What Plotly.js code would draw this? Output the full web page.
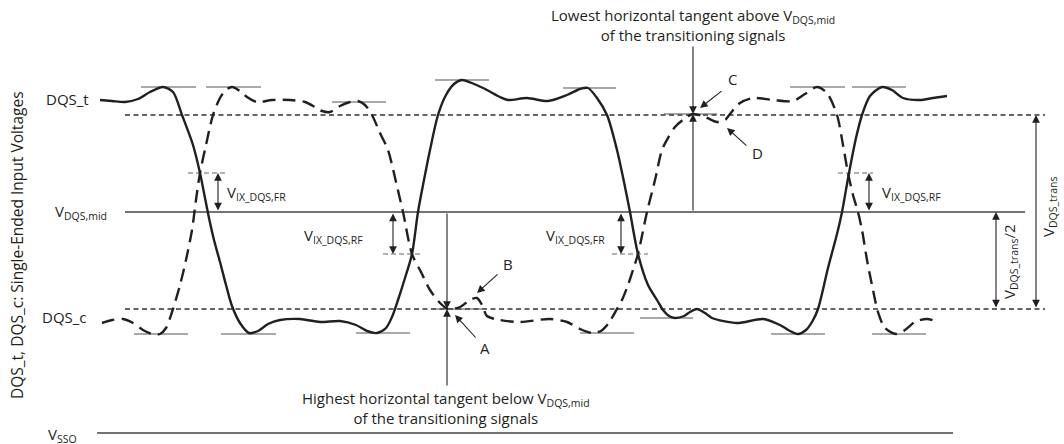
<!DOCTYPE html>
<html><head><meta charset="utf-8">
<script src="https://cdn.plot.ly/plotly-3.0.1.min.js"></script>
<style>html,body{margin:0;padding:0;background:#fff}#chart{width:1064px;height:444px}</style>
</head><body><div id="chart"></div>
<script>
// ---- DATA (time units on x, signal level units on y; level axis runs downward) ----
const dqsT_x = [100,112,125,138,150,163,173,182,193,200,205,209,214,220,226,232,240,249,258,268,280,300,320,340,356,367,377,386,392,398,405,412,418,424,430,438,446,454,462,474,487,500,508,527,548,567,580,588,597,607,617,624,630,638,648,657,663,669,675,684,690,697,705,712,737,763,780,790,798,806,812,818,828,838,842,849,856,862,870,882,892,903,920,933,947];
const dqsT_y = [100,101,102,99,92,87,92,115,145,173,198,218,240,262,285,306,323,333,331,324,320,319,322,321,325,331,333,328,317,300,278,254,212,180,150,115,95,84,80,84,90,97,100,98,101,95,89,88,98,115,150,182,212,254,285,300,310,316,318,316,312,309,313,318,323,319,325,331,334,330,322,309,268,230,212,173,138,115,96,87,90,98,100,98,96];
const dqsC_x = [102,112,123,133,143,152,160,166,173,180,186,192,196,200,206,213,220,226,232,240,247,257,272,290,305,315,322,330,340,350,358,365,372,380,388,396,403,412,421,430,440,448,460,470,477,482,487,500,520,550,567,580,592,601,608,617,622,628,633,638,647,655,662,668,675,684,693,705,717,725,730,740,753,773,793,805,817,827,837,843,848,853,858,862,867,873,878,885,896,905,915,927,938];
const dqsC_y = [323,320,319,323,330,334,334,328,309,285,260,230,200,173,145,115,98,90,87,91,97,102,100,100,102,107,111,112,106,102,101,105,115,133,150,182,212,254,272,290,303,309,307,300,298,305,316,320,322,319,322,329,333,331,324,309,300,285,270,254,212,180,150,138,127,119,114,117,122,120,114,103,98,100,101,94,87,93,115,145,173,195,212,230,260,290,312,328,334,330,322,319,322];

// reference levels
const levelTransHigh = 115;   // upper dashed reference
const levelMid = 212;         // V_DQS,mid
const levelTransLow = 309;    // lower dashed reference
const levelSSO = 433;         // V_SSO
const refStart = 125, refEnd = 1045, midEnd = 1025, ssoStart = 97, ssoEnd = 953;

// horizontal tangents at local peaks / troughs
const tanY  = [87,87,87,87,80,88,102,114,309,318,334,334,333,333,334,334];
const tanX0 = [141,206,790,852,435,563,332,664,433,640,134,221,356,580,771,872];
const tanX1 = [196,261,845,906,489,616,386,717,482,693,188,276,410,634,825,926];

// V_IX crossing level markers
const vixY  = [173,173,254,254];
const vixX0 = [188,838,383,612];
const vixX1 = [225,873,423,648];

// ---- BUILD ----
const FONT = 'Open Sans, Noto Sans, sans-serif';
const INK = '#231f20';

function segs(ys, x0s, x1s){
  const x=[], y=[];
  ys.forEach((v,i)=>{ x.push(x0s[i], x1s[i], null); y.push(v, v, null); });
  return {x, y};
}
const tan = segs(tanY, tanX0, tanX1);
const vix = segs(vixY, vixX0, vixX1);
const refDash = segs([levelTransHigh, levelTransLow], [refStart, refStart], [refEnd, refEnd]);
const refSolid = segs([levelMid, levelSSO], [refStart, ssoStart], [midEnd, ssoEnd]);

const traces = [
  {x: refDash.x, y: refDash.y, mode:'lines', line:{color:'#333', width:1.3, dash:'5px,3.5px'}, hoverinfo:'skip'},
  {x: refSolid.x, y: refSolid.y, mode:'lines', line:{color:'#444', width:1.3}, hoverinfo:'skip'},
  {x: tan.x, y: tan.y, mode:'lines', line:{color:'#555', width:1.2}, hoverinfo:'skip'},
  {x: vix.x, y: vix.y, mode:'lines', line:{color:'#666', width:1.2, dash:'5px,3px'}, hoverinfo:'skip'},
  {x: dqsT_x, y: dqsT_y, mode:'lines', line:{color:INK, width:2.4, shape:'spline', smoothing:0.8}, hoverinfo:'skip'},
  {x: dqsC_x, y: dqsC_y, mode:'lines', line:{color:INK, width:2.4, shape:'spline', smoothing:0.8, dash:'13px,7px'}, hoverinfo:'skip'}
];

function arrow(x, y, ax, ay, both){
  const a = {x, y, ax, ay, xref:'x', yref:'y', axref:'x', ayref:'y', text:'', showarrow:true,
    arrowhead:2, arrowsize:1.4, arrowwidth:1.1, arrowcolor:INK, standoff:0, startstandoff:0};
  if(both){ a.arrowside='end+start'; a.startarrowhead=2; a.startarrowsize=1.4; }
  return a;
}
function label(text, x, y, xanchor, yanchor, extra){
  return Object.assign({x, y, xref:'x', yref:'y', text, showarrow:false, xanchor, yanchor,
    font:{family:FONT, size:15, color:INK}}, extra||{});
}

const annotations = [
  arrow(218, 173, 218, 212, true),
  arrow(393, 254, 393, 212, true),
  arrow(621, 254, 621, 212, true),
  arrow(869, 173, 869, 212, true),
  arrow(1036, 115, 1036, 309, true),
  arrow(996, 212, 996, 309, true),
  arrow(447, 309, 447, 212),
  arrow(447, 309, 447, 387),
  arrow(693, 114, 693, 45),
  arrow(693, 114, 693, 212),
  arrow(455, 315, 477, 339),
  arrow(477, 293, 499, 273),
  arrow(700, 108, 723, 90),
  arrow(727, 128, 748, 147),
  label('DQS_t', 91, 99, 'right', 'middle'),
  label('V<sub>DQS,mid</sub>', 53, 212, 'left', 'middle'),
  label('DQS_c', 89, 317, 'right', 'middle'),
  label('V<sub>SSO</sub>', 46, 435, 'left', 'middle'),
  label('DQS_t, DQS_c: Single-Ended Input Voltages', 17, 245, 'center', 'middle', {textangle:-90, font:{family:FONT, size:15.5, color:INK}}),
  label('V<sub>IX_DQS,FR</sub>', 225, 193, 'left', 'middle'),
  label('V<sub>IX_DQS,RF</sub>', 365, 236, 'right', 'middle'),
  label('V<sub>IX_DQS,FR</sub>', 607, 236, 'right', 'middle'),
  label('V<sub>IX_DQS,RF</sub>', 880, 193, 'left', 'middle'),
  label('V<sub>DQS_trans</sub>', 1049, 207, 'center', 'middle', {textangle:-90}),
  label('V<sub>DQS_trans</sub>/2', 1010, 262, 'center', 'middle', {textangle:-90}),
  label('Highest horizontal tangent below V<sub>DQS,mid</sub><br>of the transitioning signals', 446, 408, 'center', 'middle'),
  label('Lowest horizontal tangent above V<sub>DQS,mid</sub><br>of the transitioning signals', 693, 25, 'center', 'middle'),
  label('A', 485, 348, 'center', 'middle'),
  label('B', 508, 264, 'center', 'middle'),
  label('C', 732, 79, 'center', 'middle'),
  label('D', 757, 153, 'center', 'middle')
];

const layout = {
  width:1064, height:444, margin:{l:0, r:0, t:0, b:0},
  paper_bgcolor:'#fff', plot_bgcolor:'#fff', showlegend:false,
  xaxis:{range:[0,1064], visible:false, fixedrange:true},
  yaxis:{range:[444,0], visible:false, fixedrange:true},
  annotations
};
Plotly.newPlot('chart', traces, layout, {staticPlot:true, displayModeBar:false});
</script>
</body></html>
